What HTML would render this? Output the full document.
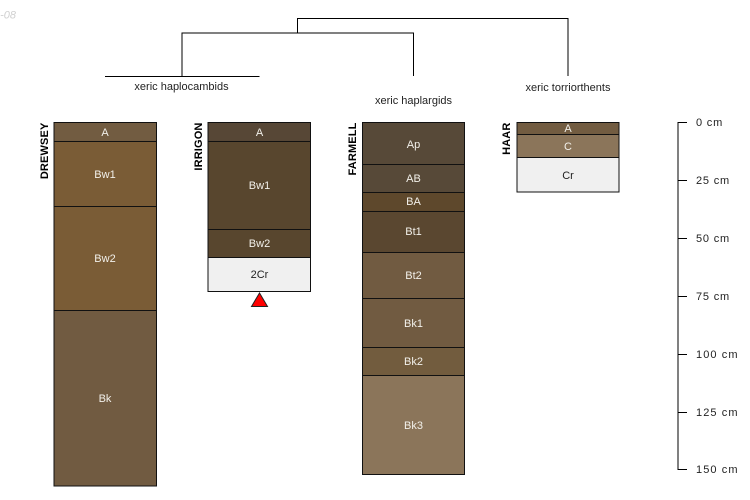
<!DOCTYPE html>
<html>
<head>
<meta charset="utf-8">
<style>
html,body{margin:0;padding:0;background:#fff}
svg{display:block}
text{font-family:"Liberation Sans",sans-serif;font-size:11px}
.h{text-anchor:middle;fill:#f2f0ea}
.d{text-anchor:middle;fill:#222}
.t{text-anchor:middle;fill:#222}
.s{fill:#222;letter-spacing:.8px}
.w{letter-spacing:1.1px}
.n{font-weight:bold;fill:#000;text-anchor:end;letter-spacing:.15px}
rect{stroke:#111;stroke-width:1}
line,path.l{stroke:#000;stroke-width:1;fill:none}
</style>
</head>
<body>
<svg width="750" height="500" viewBox="0 0 750 500" xmlns="http://www.w3.org/2000/svg">
<text x="16" y="18.500" style="font-style:italic;fill:#d0d0d0;text-anchor:end">-08</text>

<path class="l" d="M297.500 33V18.500H568V76"/>
<path class="l" d="M182 76V33H413.500V76"/>
<line x1="105" y1="76.500" x2="259.500" y2="76.500"/>
<text class="t" x="181.500" y="90">xeric haplocambids</text>
<text class="t" x="413.500" y="104">xeric haplargids</text>
<text class="t" x="568" y="91">xeric torriorthents</text>

<!-- DREWSEY -->
<text class="n" transform="translate(48,122.500) rotate(-90)">DREWSEY</text>
<rect x="54" y="122.500" width="102.500" height="19" fill="#725c41"/>
<rect x="54" y="141.500" width="102.500" height="65" fill="#7a5c36"/>
<rect x="54" y="206.500" width="102.500" height="104" fill="#7a5c36"/>
<rect x="54" y="310.500" width="102.500" height="175.500" fill="#715b41"/>
<text class="h" x="105" y="178">Bw1</text>
<text class="h" x="105" y="136">A</text>
<text class="h" x="105" y="262">Bw2</text>
<text class="h" x="105" y="402">Bk</text>

<!-- IRRIGON -->
<text class="n" transform="translate(202,122.500) rotate(-90)">IRRIGON</text>
<rect x="208" y="122.500" width="102.500" height="19" fill="#574736"/>
<rect x="208" y="141.500" width="102.500" height="88" fill="#58462e"/>
<rect x="208" y="229.500" width="102.500" height="28" fill="#58462e"/>
<rect x="208" y="257.500" width="102.500" height="34" fill="#f0f0f0"/>
<text class="h" x="259.500" y="136">A</text>
<text class="h" x="259.500" y="189">Bw1</text>
<text class="h" x="259.500" y="247">Bw2</text>
<text class="d" x="259.500" y="278">2Cr</text>
<polygon points="259.500,293 251.500,306.500 267.500,306.500" fill="#ff0000" stroke="#222" stroke-width="1"/>

<!-- FARMELL -->
<text class="n" transform="translate(356,122.500) rotate(-90)">FARMELL</text>
<rect x="362.500" y="122.500" width="102" height="42" fill="#574938"/>
<rect x="362.500" y="164.500" width="102" height="28" fill="#574938"/>
<rect x="362.500" y="192.500" width="102" height="19" fill="#5e482c"/>
<rect x="362.500" y="211.500" width="102" height="41" fill="#5a4730"/>
<rect x="362.500" y="252.500" width="102" height="46" fill="#715b41"/>
<rect x="362.500" y="298.500" width="102" height="49" fill="#715b41"/>
<rect x="362.500" y="347.500" width="102" height="28" fill="#725c3e"/>
<rect x="362.500" y="375.500" width="102" height="99" fill="#8b755a"/>
<text class="h" x="413.500" y="148">Ap</text>
<text class="h" x="413.500" y="182">AB</text>
<text class="h" x="413.500" y="205">BA</text>
<text class="h" x="413.500" y="235">Bt1</text>
<text class="h" x="413.500" y="279">Bt2</text>
<text class="h" x="413.500" y="327">Bk1</text>
<text class="h" x="413.500" y="365">Bk2</text>
<text class="h" x="413.500" y="429">Bk3</text>

<!-- HAAR -->
<text class="n" transform="translate(510,122.500) rotate(-90)">HAAR</text>
<rect x="517" y="122.500" width="102" height="12" fill="#725c41"/>
<rect x="517" y="134.500" width="102" height="23" fill="#8b755a"/>
<rect x="517" y="157.500" width="102" height="34.500" fill="#f0f0f0"/>
<text class="h" x="568" y="132">A</text>
<text class="h" x="568" y="150">C</text>
<text class="d" x="568" y="179">Cr</text>

<!-- scale -->
<line x1="678" y1="122" x2="678" y2="470"/>
<line x1="677.500" y1="122.500" x2="687" y2="122.500"/>
<line x1="677.500" y1="180.500" x2="687" y2="180.500"/>
<line x1="677.500" y1="238.500" x2="687" y2="238.500"/>
<line x1="677.500" y1="296.500" x2="687" y2="296.500"/>
<line x1="677.500" y1="354.500" x2="687" y2="354.500"/>
<line x1="677.500" y1="412.500" x2="687" y2="412.500"/>
<line x1="677.500" y1="469.500" x2="687" y2="469.500"/>
<text class="s" x="696" y="126">0 cm</text>
<text class="s" x="696" y="184">25 cm</text>
<text class="s" x="696" y="242">50 cm</text>
<text class="s" x="696" y="300">75 cm</text>
<text class="s w" x="696" y="358">100 cm</text>
<text class="s w" x="696" y="416">125 cm</text>
<text class="s w" x="696" y="473">150 cm</text>
</svg>
</body>
</html>
